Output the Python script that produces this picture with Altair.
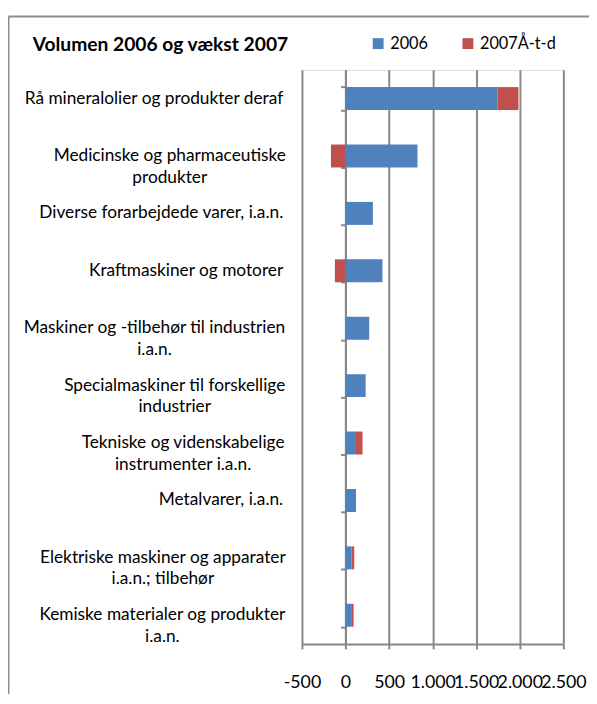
import altair as alt
import pandas as pd

categories = [
    "Rå mineralolier og produkter deraf",
    "Medicinske og pharmaceutiske\nprodukter",
    "Diverse forarbejdede varer, i.a.n.",
    "Kraftmaskiner og motorer",
    "Maskiner og -tilbehør til industrien\ni.a.n.",
    "Specialmaskiner til forskellige\nindustrier",
    "Tekniske og videnskabelige\ninstrumenter i.a.n.",
    "Metalvarer, i.a.n.",
    "Elektriske maskiner og apparater\ni.a.n.; tilbehør",
    "Kemiske materialer og produkter\ni.a.n.",
]
v2006 = [1742, 826, 314, 424, 272, 227, 120, 120, 68, 65]
v2007 = [243, -167, 0, -122, 0, 5, 75, 0, 32, 28]
series = ["2006", "2007Å-t-d"]
colors = ["#4F81BD", "#C0504D"]
x_ticks = [-500, 0, 500, 1000, 1500, 2000, 2500]
title_text = "Volumen 2006 og vækst 2007"

rows = []
for c, a, b in zip(categories, v2006, v2007):
    rows.append({"category": c, "series": series[0], "value": a, "sidx": 0})
    rows.append({"category": c, "series": series[1], "value": b, "sidx": 1})
df = pd.DataFrame(rows)
labels_df = pd.DataFrame({"category": categories})

W, H = 265, 582
xmin, xmax = x_ticks[0], x_ticks[-1]
zero_px = W * (0 - xmin) / (xmax - xmin)
FONT = "Lato"
LABEL_SIZE = 17.5
GRID = "#888888"
LABEL_RIGHT = -19  # right edge of the category label block, relative to plot left
# approximate rendered width of the longest line of each wrapped label
wrapped_width = {
    categories[1]: 230,
    categories[4]: 261,
    categories[5]: 220,
    categories[6]: 203,
    categories[8]: 244,
    categories[9]: 245,
}
ysort = categories

bars = alt.Chart(df).mark_bar().encode(
    y=alt.Y(
        "category:N",
        sort=ysort,
        scale=alt.Scale(paddingInner=0.6, paddingOuter=0.3),
        axis=alt.Axis(
            title=None,
            offset=-zero_px,
            domainColor=GRID,
            domainWidth=2,
            tickColor=GRID,
            tickWidth=2,
            tickSize=5,
            tickBand="extent",
            labels=False,
            grid=False,
        ),
    ),
    x=alt.X(
        "value:Q",
        stack="zero",
        scale=alt.Scale(domain=[xmin, xmax], nice=False),
        axis=alt.Axis(
            title=None,
            values=x_ticks,
            grid=True,
            gridColor=GRID,
            gridWidth=2,
            domainColor=GRID,
            domainWidth=2,
            tickColor=GRID,
            tickWidth=2,
            tickSize=5,
            labelExpr="replace(replace(format(datum.value, ','), ',', '.'), '\u2212', '-')",
            labelFont=FONT,
            labelFontSize=18,
            labelColor="#000000",
            labelPadding=25,
            labelOverlap=False,
            labelFlush=False,
        ),
    ),
    color=alt.Color(
        "series:N",
        scale=alt.Scale(domain=series, range=colors),
        legend=alt.Legend(
            title=None,
            orient="none",
            legendX=69,
            legendY=-35,
            direction="horizontal",
            symbolType="square",
            symbolSize=121,
            symbolStrokeWidth=0,
            labelFont=FONT,
            labelFontSize=16.5,
            labelColor="#000000",
            labelOffset=4,
            columnPadding=32,
        ),
    ),
    order=alt.Order("sidx:Q"),
)

label_style = dict(font=FONT, fontSize=LABEL_SIZE, color="#000000", baseline="middle",
                   lineBreak="\n", lineHeight=22)
single = alt.Chart(labels_df).transform_filter(
    alt.FieldOneOfPredicate(field="category", oneOf=[c for c in categories if c not in wrapped_width])
).mark_text(align="right", **label_style).encode(
    y=alt.Y("category:N", sort=ysort), x=alt.value(LABEL_RIGHT), text="category:N"
)
wrapped_layers = [
    alt.Chart(labels_df).transform_filter(
        alt.FieldOneOfPredicate(field="category", oneOf=[c])
    ).mark_text(align="center", **label_style).encode(
        y=alt.Y("category:N", sort=ysort), x=alt.value(LABEL_RIGHT - w / 2), text="category:N"
    )
    for c, w in wrapped_width.items()
]

one = pd.DataFrame({"k": [0]})
frame_left = alt.Chart(one).mark_rule(color="#8c8c8c", strokeWidth=2).encode(
    x=alt.value(-297.5), y=alt.value(-54), y2=alt.value(H + 60)
)
frame_top = alt.Chart(one).mark_rule(color="#8c8c8c", strokeWidth=2).encode(
    y=alt.value(-54), x=alt.value(-297.5), x2=alt.value(W + 40), y2=alt.value(-54)
)
title = alt.Chart(one).mark_text(
    align="left", baseline="alphabetic", font=FONT, fontSize=19.5, fontWeight="bold", color="#000000"
).encode(x=alt.value(-273), y=alt.value(-19), text=alt.value(title_text))

chart = alt.layer(bars, single, *wrapped_layers, frame_left, frame_top, title).properties(
    width=W,
    height=H,
    autosize=alt.AutoSizeParams(type="none"),
    padding={"left": 298, "top": 58, "right": 26, "bottom": 46},
).configure_view(strokeWidth=0).configure(background="white")

chart.save("out.html", embed_options={"renderer": "svg", "actions": False})
